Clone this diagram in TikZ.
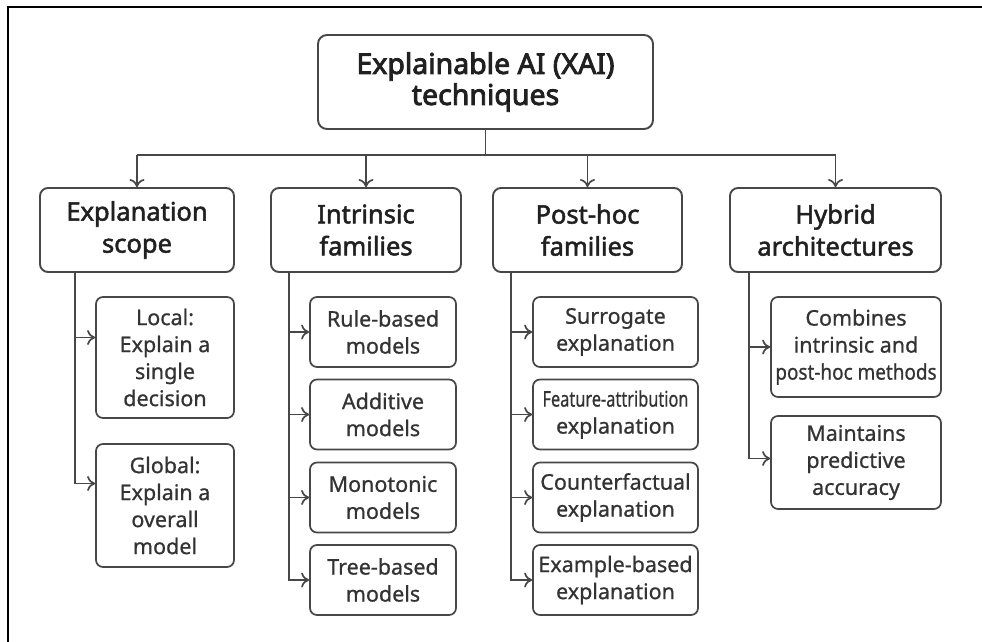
\documentclass[tikz,border=0pt]{standalone}
\usepackage{fontspec}
\setmainfont{Noto Sans}
\newfontfamily\rootfont{Noto Sans}[FakeBold=3]
\newfontfamily\headfont{Noto Sans}[FakeBold=2]
\newfontfamily\leaffont{Noto Sans}[FakeBold=0.8]
\usepackage{graphicx}
\usepackage{tikz}
\usetikzlibrary{calc}
\usetikzlibrary{arrows.meta}
\usetikzlibrary{positioning}
\definecolor{linegray}{HTML}{474747}
\definecolor{inkgray}{HTML}{202020}
\definecolor{leafgray}{HTML}{333333}
\tikzset{topbox/.style={draw=linegray,line width=1.9pt,rounded corners=9pt,align=center,text=inkgray,inner sep=0pt,font=\rootfont\fontsize{28.5}{31}\selectfont}}
\tikzset{headbox/.style={draw=linegray,line width=1.9pt,rounded corners=8pt,align=center,text=inkgray,inner sep=0pt,minimum height=84pt,font=\headfont\fontsize{25.5}{32}\selectfont}}
\tikzset{leafbox/.style={draw=linegray,line width=1.7pt,rounded corners=7pt,align=center,text=leafgray,inner sep=0pt,font=\leaffont\fontsize{21.5}{27}\selectfont}}
\tikzset{link/.style={draw=linegray,line width=1.7pt}}
\tikzset{arr/.style={link,-{To[length=8pt,width=15pt]}}}

\begin{document}
\begin{tikzpicture}[x=1pt,y=-1pt]
\useasboundingbox (0,0) rectangle (982,642);
\draw[black,line width=2.2pt] (8,642) -- (8,7) -- (982,7);

\node[topbox, minimum width=335pt, minimum height=94pt] (xai) at (485.5,82) {Explainable AI (XAI)\\techniques};

\node[headbox, minimum width=194pt] (scope) at (137,230) {Explanation\\scope};
\node[headbox, minimum width=190pt] (intr) at (366,230) {Intrinsic\\families};
\node[headbox, minimum width=189pt] (post) at (587.5,230) {Post-hoc\\families};
\node[headbox, minimum width=211pt] (hyb) at (835.5,230) {Hybrid\\architectures};

\node[leafbox, minimum width=138pt, minimum height=121pt] (s1) at (165,357.5) {Local:\\Explain a\\single\\decision};
\node[leafbox, minimum width=138pt, minimum height=123pt] (s2) at (165,505.5) {Global:\\Explain a\\overall\\model};

\node[leafbox, minimum width=146pt, minimum height=70pt] (i1) at (383,332) {Rule-based\\models};
\node[leafbox, minimum width=146pt, minimum height=70pt] (i2) at (383,414.5) {Additive\\models};
\node[leafbox, minimum width=146pt, minimum height=70pt] (i3) at (383,497.5) {Monotonic\\models};
\node[leafbox, minimum width=146pt, minimum height=70pt] (i4) at (383,580) {Tree-based\\models};

\node[leafbox, minimum width=165pt, minimum height=70pt] (p1) at (615.5,332) {Surrogate\\explanation};
\node[leafbox, minimum width=165pt, minimum height=70pt] (p2) at (615.5,414.5) {\scalebox{0.76}[1]{Feature-attribution}\\explanation};
\node[leafbox, minimum width=165pt, minimum height=70pt] (p3) at (615.5,497.5) {Counterfactual\\explanation};
\node[leafbox, minimum width=165pt, minimum height=70pt] (p4) at (615.5,580) {Example-based\\explanation};

\node[leafbox, minimum width=170pt, minimum height=100pt] (h1) at (856,347) {Combines\\intrinsic and\\\scalebox{0.88}[1]{post-hoc methods}};
\node[leafbox, minimum width=170pt, minimum height=93pt] (h2) at (856,462.5) {Maintains\\predictive\\accuracy};

% top level branches
\draw[link] (xai.south) -- ++(0,25) coordinate (bus);
\draw[link] (bus -| scope.north) -- (bus -| hyb.north);
\foreach \n in {scope,intr,post,hyb}
  \draw[arr] (bus -| \n.north) -- (\n.north);

% trunks
\coordinate (ts) at (75,0);
\coordinate (ti) at (289,0);
\coordinate (tp) at (511,0);
\coordinate (th) at (749,0);

\draw[arr] (ts |- scope.south) |- ([yshift=22pt]s2.west);
\draw[arr] (ts |- s1.west) ++(0,-20) -- ([yshift=20pt]s1.west);

\draw[arr] (ti |- intr.south) |- (i4.west);
\foreach \n in {i1,i2,i3}
  \draw[arr] (ti |- \n.west) -- (\n.west);

\draw[arr] (tp |- post.south) |- (p4.west);
\foreach \n in {p1,p2,p3}
  \draw[arr] (tp |- \n.west) -- (\n.west);

\draw[arr] (th |- hyb.south) |- ([yshift=4pt]h2.west);
\draw[arr] (th |- h1.west) -- (h1.west);

\end{tikzpicture}
\end{document}
